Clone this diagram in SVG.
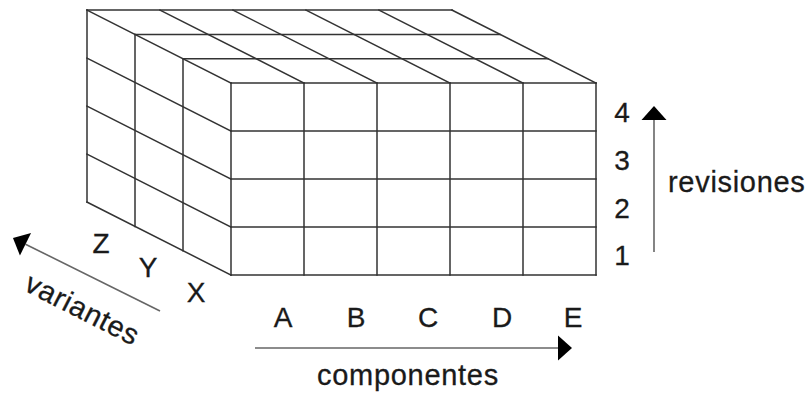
<svg xmlns="http://www.w3.org/2000/svg" width="808" height="394" viewBox="0 0 808 394">
  <defs>
    <style>
      .g { stroke: #333; stroke-width: 1.5; fill: none; stroke-linecap: square; }
      .t { font-family: "Liberation Sans", Arial, sans-serif; font-size: 28px; fill: #1a1a1a; stroke: #1a1a1a; stroke-width: 0.3; }
      .w { font-size: 29px; letter-spacing: 0.7px; }
      .m { text-anchor: middle; }
      .ax { stroke: #666; stroke-width: 1.6; fill: none; }
    </style>
    <marker id="ah" markerUnits="userSpaceOnUse" markerWidth="15" markerHeight="26" refX="0" refY="12.5" orient="auto" overflow="visible">
      <path d="M0,0 L14,12.5 L0,25 Z" fill="#000"/>
    </marker>
  </defs>
  <rect width="808" height="394" fill="#fff"/>

  <g id="cube">
    <g id="front-face" class="g">
      <path d="M231,83 V275 M304,83 V275 M377,83 V275 M450,83 V275 M523,83 V275 M596,83 V275"/>
      <path d="M231,83 H596 M231,131 H596 M231,179 H596 M231,227 H596 M231,275 H596"/>
    </g>
    <g id="top-face" class="g">
      <path d="M183,58.7 H548 M135,34.4 H500 M87,10.1 H452"/>
      <path d="M231,83 L87,10.1 M304,83 L160,10.1 M377,83 L233,10.1 M450,83 L306,10.1 M523,83 L379,10.1 M596,83 L452,10.1"/>
    </g>
    <g id="left-face" class="g">
      <path d="M183,58.7 V250.7 M135,34.4 V226.4 M87,10.1 V202.1"/>
      <path d="M231,131 L87,58.1 M231,179 L87,106.1 M231,227 L87,154.1 M231,275 L87,202.1"/>
    </g>
  </g>

  <g id="connectors">
    <line id="arrow-componentes" class="ax" x1="255" y1="348" x2="558" y2="348" marker-end="url(#ah)"/>
    <line id="arrow-revisiones" class="ax" x1="654" y1="252" x2="654" y2="120" marker-end="url(#ah)"/>
    <line id="arrow-variantes" class="ax" x1="160" y1="311" x2="25.5" y2="244.2" marker-end="url(#ah)"/>
  </g>

  <g id="component-labels" class="t m">
    <text x="283" y="327">A</text>
    <text x="356" y="327">B</text>
    <text x="428" y="327">C</text>
    <text x="502" y="327">D</text>
    <text x="573" y="327">E</text>
  </g>
  <g id="revision-labels" class="t m">
    <text x="622" y="122">4</text>
    <text x="622" y="170">3</text>
    <text x="622" y="218">2</text>
    <text x="622" y="265">1</text>
  </g>
  <g id="variant-labels" class="t m">
    <text x="101" y="253">Z</text>
    <text x="148" y="277">Y</text>
    <text x="196" y="302">X</text>
  </g>
  <g id="axis-titles" class="t w">
    <text x="408" y="385" class="m">componentes</text>
    <text x="668" y="192">revisiones</text>
    <text x="78" y="318" class="m" transform="rotate(27 78 318)">variantes</text>
  </g>
</svg>
